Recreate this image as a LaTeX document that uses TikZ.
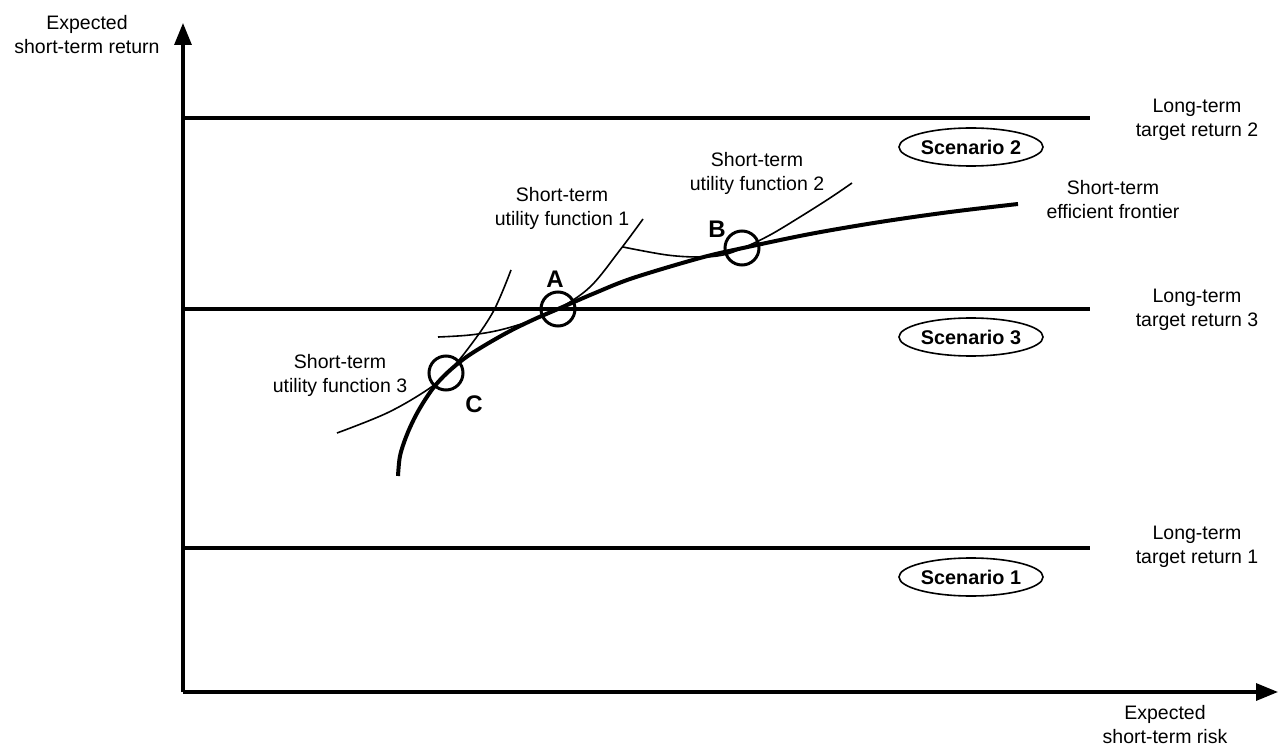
\documentclass[tikz,border=0pt]{standalone}
\usepackage{fontspec}
\setmainfont{Liberation Sans}
\usetikzlibrary{arrows.meta,shapes.geometric}
\begin{document}
\begin{tikzpicture}[x=1pt,y=-1pt,
  lbl/.style={align=center,font=\fontsize{19.5}{24}\selectfont,inner sep=0pt},
  scen/.style={draw,ellipse,line width=1.6pt,minimum width=144pt,minimum height=38pt,inner sep=0pt,font=\fontsize{19.8}{22}\selectfont\bfseries},
  pt/.style={draw,circle,line width=3pt,minimum size=34pt,inner sep=0pt},
  letter/.style={font=\fontsize{24}{26}\selectfont\bfseries,inner sep=0pt},
  axis/.style={line width=3.2pt,-{Triangle[length=22pt,width=17pt]}},
  target/.style={line width=3.2pt},
  frontier/.style={line width=4pt},
  util/.style={line width=1.6pt}]
\useasboundingbox (0,0) rectangle (1278,746);
% axes
\coordinate (O) at (183,692);
\coordinate (Ytip) at (183,23);
\coordinate (Xtip) at (1278,692);
\draw[axis] (O) -- (Ytip);
\draw[axis] (O) -- (Xtip);
\node[lbl] (ylab) at (87,35) {Expected\\short-term return};
\node[lbl] (xlab) at (1165,725) {Expected\\short-term risk};
% target lines
\coordinate (t2a) at (183,118); \coordinate (t2b) at (1090,118);
\coordinate (t3a) at (183,309); \coordinate (t3b) at (1090,309);
\coordinate (t1a) at (183,548); \coordinate (t1b) at (1090,548);
\draw[target] (t2a) -- (t2b);
\draw[target] (t3a) -- (t3b);
\draw[target] (t1a) -- (t1b);
\node[lbl] (lt2) at (1197,119.5) {Long-term\\target return 2};
\node[lbl] (lt3) at (1197,309.5) {Long-term\\target return 3};
\node[lbl] (lt1) at (1197,547) {Long-term\\target return 1};
\node[scen] (s2) at (971,147) {Scenario 2};
\node[scen] (s3) at (971,337) {Scenario 3};
\node[scen] (s1) at (971,577) {Scenario 1};
% frontier
\draw[frontier] plot[smooth,tension=0.55] coordinates {(398,476) (400,456) (406,437) (414,419) (423,403) (434,387) (447,373) (465,358) (487,344) (512,330) (537,318) (558,309) (595,293) (633,278) (700,258) (743,248) (810,234) (880,222) (950,212) (1018,204)};
\node[lbl] (fl) at (1113,200) {Short-term\\efficient frontier};
% utility curves
\draw[util] plot[smooth,tension=0.6] coordinates {(438,337) (470,335) (500,330) (533,320) (558,309) (590,287) (620,250) (643,219)};
\draw[util] plot[smooth,tension=0.6] coordinates {(337,433) (387,413) (427,390) (447,373) (467,350) (493,312) (511,270)};
\draw[util] plot[smooth,tension=0.6] coordinates {(623,247) (667,255) (700,257) (723,255) (743,248) (770,235) (800,217) (830,198) (852,183)};
\node[lbl] (u1) at (562,208.5) {Short-term\\utility function 1};
\node[lbl] (u2) at (757,173.5) {Short-term\\utility function 2};
\node[lbl] (u3) at (340,375) {Short-term\\utility function 3};
% points
\node[pt] (A) at (558,309) {};
\node[pt] (B) at (742,248) {};
\node[pt] (C) at (446,373) {};
\node[letter] (Al) at (555,279) {A};
\node[letter] (Bl) at (717,229) {B};
\node[letter] (Cl) at (474,404) {C};
\end{tikzpicture}
\end{document}
